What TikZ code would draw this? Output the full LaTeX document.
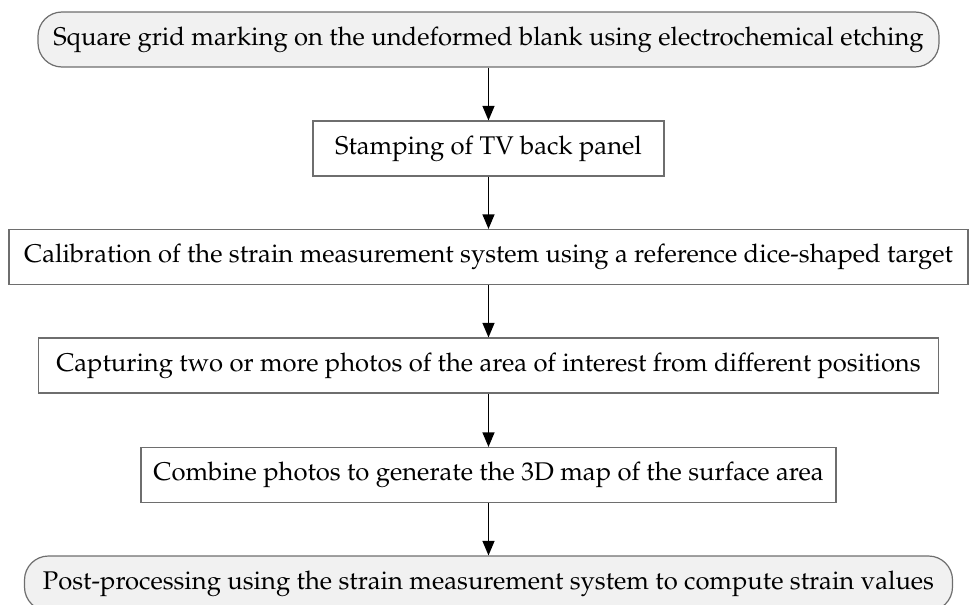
\documentclass[tikz,border=0pt]{standalone}
\usepackage[T1]{fontenc}
\usepackage{mathpazo}
\usepackage{tikz}
\usetikzlibrary{arrows}
\definecolor{termfill}{HTML}{F1F1F1}
\definecolor{boxline}{HTML}{6E6E6E}
\tikzset{
  stepbox/.style={draw=boxline, line width=0.6pt, minimum height=27.5pt, inner xsep=0pt, text=black},
  termbox/.style={stepbox, fill=termfill, rounded corners=12pt},
}
\begin{document}
\begin{tikzpicture}[x=0.5pt, y=-0.5pt, font=\fontsize{12.8}{15}\selectfont, >=triangle 45]
  \useasboundingbox (0,0) rectangle (970,605);
  \node[termbox, minimum width=450.5pt] (mark) at (488.5, 39.5) {Square grid marking on the undeformed blank using electrochemical etching};
  \node[stepbox, minimum width=175.5pt] (stamp) at (488.5, 148.5) {Stamping of TV back panel};
  \node[stepbox, minimum width=479.5pt] (calib) at (488.5, 257) {Calibration of the strain measurement system using a reference dice-shaped target};
  \node[stepbox, minimum width=450pt] (photo) at (488.5, 365.5) {Capturing two or more photos of the area of interest from different positions};
  \node[stepbox, minimum width=347.5pt] (map) at (488.5, 475) {Combine photos to generate the 3D map of the surface area};
  \node[termbox, minimum width=464pt] (post) at (488.5, 583.5) {Post-processing using the strain measurement system to compute strain values};
  \draw[->, line width=0.65pt] (mark) to (stamp);
  \draw[->, line width=0.65pt] (stamp) to (calib);
  \draw[->, line width=0.65pt] (calib) to (photo);
  \draw[->, line width=0.65pt] (photo) to (map);
  \draw[->, line width=0.65pt] (map) to (post);
\end{tikzpicture}
\end{document}
